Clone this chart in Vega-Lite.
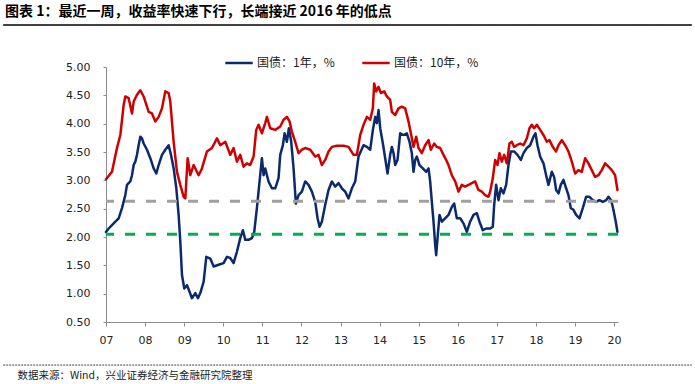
{
  "$schema": "https://vega.github.io/schema/vega-lite/v6.json",
  "width": 512,
  "height": 255,
  "autosize": "none",
  "padding": {"left": 106, "top": 67, "right": 77, "bottom": 62},
  "background": "white",
  "title": {
    "text": "图表 1：最近一周，收益率快速下行，长端接近 2016 年的低点",
    "anchor": "start",
    "frame": "group",
    "font": "Noto Sans CJK SC",
    "fontSize": 14,
    "fontWeight": "bold",
    "color": "#000000",
    "dx": -101,
    "offset": 5
  },
  "datasets": {
    "bonds": [
      {"t": 2007.000, "s": "国债：1年，%", "v": 2.09},
      {"t": 2007.068, "s": "国债：1年，%", "v": 2.15},
      {"t": 2007.153, "s": "国债：1年，%", "v": 2.21},
      {"t": 2007.239, "s": "国债：1年，%", "v": 2.27},
      {"t": 2007.324, "s": "国债：1年，%", "v": 2.33},
      {"t": 2007.409, "s": "国债：1年，%", "v": 2.51},
      {"t": 2007.494, "s": "国债：1年，%", "v": 2.74},
      {"t": 2007.537, "s": "国债：1年，%", "v": 2.92},
      {"t": 2007.622, "s": "国债：1年，%", "v": 2.98},
      {"t": 2007.665, "s": "国债：1年，%", "v": 3.09},
      {"t": 2007.708, "s": "国债：1年，%", "v": 3.27},
      {"t": 2007.750, "s": "国债：1年，%", "v": 3.33},
      {"t": 2007.793, "s": "国债：1年，%", "v": 3.45},
      {"t": 2007.835, "s": "国债：1年，%", "v": 3.62},
      {"t": 2007.878, "s": "国债：1年，%", "v": 3.77},
      {"t": 2007.921, "s": "国债：1年，%", "v": 3.74},
      {"t": 2007.963, "s": "国债：1年，%", "v": 3.65},
      {"t": 2008.049, "s": "国债：1年，%", "v": 3.54},
      {"t": 2008.134, "s": "国债：1年，%", "v": 3.39},
      {"t": 2008.219, "s": "国债：1年，%", "v": 3.21},
      {"t": 2008.287, "s": "国债：1年，%", "v": 3.12},
      {"t": 2008.347, "s": "国债：1年，%", "v": 3.27},
      {"t": 2008.432, "s": "国债：1年，%", "v": 3.45},
      {"t": 2008.517, "s": "国债：1年，%", "v": 3.54},
      {"t": 2008.603, "s": "国债：1年，%", "v": 3.62},
      {"t": 2008.662, "s": "国债：1年，%", "v": 3.45},
      {"t": 2008.731, "s": "国债：1年，%", "v": 3.21},
      {"t": 2008.799, "s": "国债：1年，%", "v": 2.86},
      {"t": 2008.858, "s": "国债：1年，%", "v": 2.39},
      {"t": 2008.901, "s": "国债：1年，%", "v": 1.92},
      {"t": 2008.944, "s": "国债：1年，%", "v": 1.33},
      {"t": 2009.003, "s": "国债：1年，%", "v": 1.09},
      {"t": 2009.072, "s": "国债：1年，%", "v": 1.15},
      {"t": 2009.140, "s": "国债：1年，%", "v": 1.03},
      {"t": 2009.199, "s": "国债：1年，%", "v": 0.92},
      {"t": 2009.285, "s": "国债：1年，%", "v": 1.01},
      {"t": 2009.353, "s": "国债：1年，%", "v": 0.92},
      {"t": 2009.413, "s": "国债：1年，%", "v": 1.01},
      {"t": 2009.498, "s": "国债：1年，%", "v": 1.21},
      {"t": 2009.566, "s": "国债：1年，%", "v": 1.65},
      {"t": 2009.668, "s": "国债：1年，%", "v": 1.62},
      {"t": 2009.754, "s": "国债：1年，%", "v": 1.48},
      {"t": 2009.881, "s": "国债：1年，%", "v": 1.51},
      {"t": 2010.009, "s": "国债：1年，%", "v": 1.54},
      {"t": 2010.094, "s": "国债：1年，%", "v": 1.65},
      {"t": 2010.179, "s": "国债：1年，%", "v": 1.63},
      {"t": 2010.264, "s": "国债：1年，%", "v": 1.54},
      {"t": 2010.350, "s": "国债：1年，%", "v": 1.74},
      {"t": 2010.435, "s": "国债：1年，%", "v": 1.98},
      {"t": 2010.503, "s": "国债：1年，%", "v": 2.12},
      {"t": 2010.563, "s": "国债：1年，%", "v": 1.95},
      {"t": 2010.648, "s": "国债：1年，%", "v": 1.95},
      {"t": 2010.733, "s": "国债：1年，%", "v": 1.98},
      {"t": 2010.793, "s": "国债：1年，%", "v": 2.09},
      {"t": 2010.861, "s": "国债：1年，%", "v": 2.51},
      {"t": 2010.929, "s": "国债：1年，%", "v": 2.98},
      {"t": 2010.989, "s": "国债：1年，%", "v": 3.39},
      {"t": 2011.032, "s": "国债：1年，%", "v": 3.09},
      {"t": 2011.074, "s": "国债：1年，%", "v": 3.21},
      {"t": 2011.159, "s": "国债：1年，%", "v": 2.98},
      {"t": 2011.245, "s": "国债：1年，%", "v": 2.86},
      {"t": 2011.330, "s": "国债：1年，%", "v": 2.86},
      {"t": 2011.415, "s": "国债：1年，%", "v": 3.04},
      {"t": 2011.458, "s": "国债：1年，%", "v": 3.45},
      {"t": 2011.526, "s": "国债：1年，%", "v": 3.62},
      {"t": 2011.569, "s": "国债：1年，%", "v": 3.83},
      {"t": 2011.628, "s": "国债：1年，%", "v": 3.68},
      {"t": 2011.679, "s": "国债：1年，%", "v": 3.92},
      {"t": 2011.739, "s": "国债：1年，%", "v": 3.68},
      {"t": 2011.799, "s": "国债：1年，%", "v": 3.21},
      {"t": 2011.858, "s": "国债：1年，%", "v": 2.59},
      {"t": 2011.927, "s": "国债：1年，%", "v": 2.74},
      {"t": 2012.012, "s": "国债：1年，%", "v": 2.80},
      {"t": 2012.097, "s": "国债：1年，%", "v": 2.98},
      {"t": 2012.182, "s": "国债：1年，%", "v": 2.92},
      {"t": 2012.268, "s": "国债：1年，%", "v": 2.80},
      {"t": 2012.353, "s": "国债：1年，%", "v": 2.62},
      {"t": 2012.413, "s": "国债：1年，%", "v": 2.33},
      {"t": 2012.464, "s": "国债：1年，%", "v": 2.18},
      {"t": 2012.523, "s": "国债：1年，%", "v": 2.27},
      {"t": 2012.609, "s": "国债：1年，%", "v": 2.57},
      {"t": 2012.694, "s": "国债：1年，%", "v": 2.83},
      {"t": 2012.779, "s": "国债：1年，%", "v": 2.98},
      {"t": 2012.864, "s": "国债：1年，%", "v": 2.89},
      {"t": 2012.950, "s": "国债：1年，%", "v": 2.95},
      {"t": 2013.035, "s": "国债：1年，%", "v": 2.86},
      {"t": 2013.120, "s": "国债：1年，%", "v": 2.80},
      {"t": 2013.205, "s": "国债：1年，%", "v": 2.68},
      {"t": 2013.291, "s": "国债：1年，%", "v": 2.86},
      {"t": 2013.376, "s": "国债：1年，%", "v": 2.98},
      {"t": 2013.461, "s": "国债：1年，%", "v": 3.42},
      {"t": 2013.589, "s": "国债：1年，%", "v": 3.62},
      {"t": 2013.675, "s": "国债：1年，%", "v": 3.59},
      {"t": 2013.760, "s": "国债：1年，%", "v": 3.54},
      {"t": 2013.828, "s": "国债：1年，%", "v": 3.89},
      {"t": 2013.888, "s": "国债：1年，%", "v": 4.12},
      {"t": 2013.930, "s": "国债：1年，%", "v": 4.01},
      {"t": 2013.973, "s": "国债：1年，%", "v": 4.24},
      {"t": 2014.016, "s": "国债：1年，%", "v": 3.92},
      {"t": 2014.084, "s": "国债：1年，%", "v": 3.65},
      {"t": 2014.143, "s": "国债：1年，%", "v": 3.39},
      {"t": 2014.203, "s": "国债：1年，%", "v": 3.12},
      {"t": 2014.271, "s": "国债：1年，%", "v": 3.45},
      {"t": 2014.314, "s": "国债：1年，%", "v": 3.59},
      {"t": 2014.357, "s": "国债：1年，%", "v": 3.48},
      {"t": 2014.399, "s": "国债：1年，%", "v": 3.27},
      {"t": 2014.459, "s": "国债：1年，%", "v": 3.36},
      {"t": 2014.527, "s": "国债：1年，%", "v": 3.83},
      {"t": 2014.612, "s": "国债：1年，%", "v": 3.80},
      {"t": 2014.698, "s": "国债：1年，%", "v": 3.83},
      {"t": 2014.766, "s": "国债：1年，%", "v": 3.68},
      {"t": 2014.825, "s": "国债：1年，%", "v": 3.48},
      {"t": 2014.868, "s": "国债：1年，%", "v": 3.15},
      {"t": 2014.911, "s": "国债：1年，%", "v": 3.36},
      {"t": 2014.953, "s": "国债：1年，%", "v": 3.42},
      {"t": 2015.021, "s": "国债：1年，%", "v": 3.27},
      {"t": 2015.107, "s": "国债：1年，%", "v": 3.21},
      {"t": 2015.192, "s": "国债：1年，%", "v": 3.15},
      {"t": 2015.252, "s": "国债：1年，%", "v": 3.21},
      {"t": 2015.294, "s": "国债：1年，%", "v": 2.98},
      {"t": 2015.337, "s": "国债：1年，%", "v": 2.62},
      {"t": 2015.380, "s": "国债：1年，%", "v": 2.27},
      {"t": 2015.422, "s": "国债：1年，%", "v": 1.86},
      {"t": 2015.448, "s": "国债：1年，%", "v": 1.68},
      {"t": 2015.490, "s": "国债：1年，%", "v": 2.04},
      {"t": 2015.533, "s": "国债：1年，%", "v": 2.39},
      {"t": 2015.593, "s": "国债：1年，%", "v": 2.27},
      {"t": 2015.678, "s": "国债：1年，%", "v": 2.33},
      {"t": 2015.763, "s": "国债：1年，%", "v": 2.39},
      {"t": 2015.848, "s": "国债：1年，%", "v": 2.53},
      {"t": 2015.908, "s": "国债：1年，%", "v": 2.59},
      {"t": 2015.976, "s": "国债：1年，%", "v": 2.33},
      {"t": 2016.062, "s": "国债：1年，%", "v": 2.33},
      {"t": 2016.147, "s": "国债：1年，%", "v": 2.24},
      {"t": 2016.232, "s": "国债：1年，%", "v": 2.09},
      {"t": 2016.317, "s": "国债：1年，%", "v": 2.27},
      {"t": 2016.403, "s": "国债：1年，%", "v": 2.39},
      {"t": 2016.488, "s": "国债：1年，%", "v": 2.42},
      {"t": 2016.556, "s": "国债：1年，%", "v": 2.27},
      {"t": 2016.641, "s": "国债：1年，%", "v": 2.12},
      {"t": 2016.727, "s": "国债：1年，%", "v": 2.15},
      {"t": 2016.829, "s": "国债：1年，%", "v": 2.15},
      {"t": 2016.897, "s": "国债：1年，%", "v": 2.18},
      {"t": 2016.931, "s": "国债：1年，%", "v": 2.56},
      {"t": 2016.982, "s": "国债：1年，%", "v": 2.92},
      {"t": 2017.042, "s": "国债：1年，%", "v": 2.65},
      {"t": 2017.102, "s": "国债：1年，%", "v": 2.86},
      {"t": 2017.170, "s": "国债：1年，%", "v": 2.77},
      {"t": 2017.238, "s": "国债：1年，%", "v": 2.92},
      {"t": 2017.298, "s": "国债：1年，%", "v": 3.27},
      {"t": 2017.358, "s": "国债：1年，%", "v": 3.51},
      {"t": 2017.443, "s": "国债：1年，%", "v": 3.51},
      {"t": 2017.528, "s": "国债：1年，%", "v": 3.45},
      {"t": 2017.613, "s": "国债：1年，%", "v": 3.36},
      {"t": 2017.682, "s": "国债：1年，%", "v": 3.48},
      {"t": 2017.767, "s": "国债：1年，%", "v": 3.57},
      {"t": 2017.852, "s": "国债：1年，%", "v": 3.62},
      {"t": 2017.937, "s": "国债：1年，%", "v": 3.77},
      {"t": 2017.988, "s": "国债：1年，%", "v": 3.83},
      {"t": 2018.040, "s": "国债：1年，%", "v": 3.62},
      {"t": 2018.108, "s": "国债：1年，%", "v": 3.42},
      {"t": 2018.193, "s": "国债：1年，%", "v": 3.30},
      {"t": 2018.261, "s": "国债：1年，%", "v": 3.09},
      {"t": 2018.321, "s": "国债：1年，%", "v": 2.92},
      {"t": 2018.406, "s": "国债：1年，%", "v": 3.15},
      {"t": 2018.466, "s": "国债：1年，%", "v": 3.06},
      {"t": 2018.517, "s": "国债：1年，%", "v": 2.83},
      {"t": 2018.577, "s": "国债：1年，%", "v": 2.77},
      {"t": 2018.636, "s": "国债：1年，%", "v": 2.92},
      {"t": 2018.705, "s": "国债：1年，%", "v": 3.01},
      {"t": 2018.773, "s": "国债：1年，%", "v": 2.86},
      {"t": 2018.832, "s": "国债：1年，%", "v": 2.74},
      {"t": 2018.892, "s": "国债：1年，%", "v": 2.51},
      {"t": 2018.960, "s": "国债：1年，%", "v": 2.48},
      {"t": 2019.029, "s": "国债：1年，%", "v": 2.39},
      {"t": 2019.114, "s": "国债：1年，%", "v": 2.33},
      {"t": 2019.199, "s": "国债：1年，%", "v": 2.51},
      {"t": 2019.284, "s": "国债：1年，%", "v": 2.71},
      {"t": 2019.370, "s": "国债：1年，%", "v": 2.71},
      {"t": 2019.455, "s": "国债：1年，%", "v": 2.65},
      {"t": 2019.540, "s": "国债：1年，%", "v": 2.62},
      {"t": 2019.625, "s": "国债：1年，%", "v": 2.65},
      {"t": 2019.711, "s": "国债：1年，%", "v": 2.62},
      {"t": 2019.796, "s": "国债：1年，%", "v": 2.65},
      {"t": 2019.856, "s": "国债：1年，%", "v": 2.71},
      {"t": 2019.924, "s": "国债：1年，%", "v": 2.65},
      {"t": 2019.983, "s": "国债：1年，%", "v": 2.48},
      {"t": 2020.043, "s": "国债：1年，%", "v": 2.27},
      {"t": 2020.086, "s": "国债：1年，%", "v": 2.09},
      {"t": 2007.000, "s": "国债：10年，%", "v": 3.02},
      {"t": 2007.153, "s": "国债：10年，%", "v": 3.15},
      {"t": 2007.281, "s": "国债：10年，%", "v": 3.57},
      {"t": 2007.367, "s": "国债：10年，%", "v": 3.80},
      {"t": 2007.452, "s": "国债：10年，%", "v": 4.33},
      {"t": 2007.494, "s": "国债：10年，%", "v": 4.48},
      {"t": 2007.580, "s": "国债：10年，%", "v": 4.45},
      {"t": 2007.665, "s": "国债：10年，%", "v": 4.18},
      {"t": 2007.708, "s": "国债：10年，%", "v": 4.39},
      {"t": 2007.793, "s": "国债：10年，%", "v": 4.51},
      {"t": 2007.878, "s": "国债：10年，%", "v": 4.59},
      {"t": 2007.963, "s": "国债：10年，%", "v": 4.48},
      {"t": 2008.091, "s": "国债：10年，%", "v": 4.21},
      {"t": 2008.176, "s": "国债：10年，%", "v": 4.18},
      {"t": 2008.262, "s": "国债：10年，%", "v": 4.04},
      {"t": 2008.347, "s": "国债：10年，%", "v": 4.12},
      {"t": 2008.432, "s": "国债：10年，%", "v": 4.27},
      {"t": 2008.517, "s": "国债：10年，%", "v": 4.57},
      {"t": 2008.603, "s": "国债：10年，%", "v": 4.54},
      {"t": 2008.645, "s": "国债：10年，%", "v": 4.39},
      {"t": 2008.731, "s": "国债：10年，%", "v": 3.68},
      {"t": 2008.816, "s": "国债：10年，%", "v": 3.15},
      {"t": 2008.901, "s": "国债：10年，%", "v": 2.92},
      {"t": 2008.986, "s": "国债：10年，%", "v": 2.71},
      {"t": 2009.029, "s": "国债：10年，%", "v": 2.68},
      {"t": 2009.089, "s": "国债：10年，%", "v": 3.39},
      {"t": 2009.157, "s": "国债：10年，%", "v": 3.09},
      {"t": 2009.242, "s": "国债：10年，%", "v": 3.27},
      {"t": 2009.370, "s": "国债：10年，%", "v": 3.09},
      {"t": 2009.455, "s": "国债：10年，%", "v": 3.21},
      {"t": 2009.583, "s": "国债：10年，%", "v": 3.51},
      {"t": 2009.711, "s": "国债：10年，%", "v": 3.57},
      {"t": 2009.839, "s": "国债：10年，%", "v": 3.74},
      {"t": 2009.924, "s": "国债：10年，%", "v": 3.62},
      {"t": 2010.052, "s": "国债：10年，%", "v": 3.68},
      {"t": 2010.179, "s": "国债：10年，%", "v": 3.45},
      {"t": 2010.264, "s": "国债：10年，%", "v": 3.57},
      {"t": 2010.350, "s": "国债：10年，%", "v": 3.33},
      {"t": 2010.435, "s": "国债：10年，%", "v": 3.45},
      {"t": 2010.520, "s": "国债：10年，%", "v": 3.24},
      {"t": 2010.605, "s": "国债：10年，%", "v": 3.30},
      {"t": 2010.691, "s": "国债：10年，%", "v": 3.27},
      {"t": 2010.776, "s": "国债：10年，%", "v": 3.42},
      {"t": 2010.844, "s": "国债：10年，%", "v": 3.89},
      {"t": 2010.904, "s": "国债：10年，%", "v": 3.98},
      {"t": 2010.989, "s": "国债：10年，%", "v": 3.83},
      {"t": 2011.074, "s": "国债：10年，%", "v": 4.01},
      {"t": 2011.117, "s": "国债：10年，%", "v": 4.12},
      {"t": 2011.202, "s": "国债：10年，%", "v": 3.92},
      {"t": 2011.330, "s": "国债：10年，%", "v": 3.89},
      {"t": 2011.458, "s": "国债：10年，%", "v": 3.95},
      {"t": 2011.543, "s": "国债：10年，%", "v": 4.07},
      {"t": 2011.628, "s": "国债：10年，%", "v": 4.12},
      {"t": 2011.696, "s": "国债：10年，%", "v": 4.04},
      {"t": 2011.756, "s": "国债：10年，%", "v": 3.86},
      {"t": 2011.841, "s": "国债：10年，%", "v": 3.68},
      {"t": 2011.927, "s": "国债：10年，%", "v": 3.48},
      {"t": 2012.012, "s": "国债：10年，%", "v": 3.54},
      {"t": 2012.097, "s": "国债：10年，%", "v": 3.57},
      {"t": 2012.225, "s": "国债：10年，%", "v": 3.54},
      {"t": 2012.353, "s": "国债：10年，%", "v": 3.42},
      {"t": 2012.438, "s": "国债：10年，%", "v": 3.45},
      {"t": 2012.523, "s": "国债：10年，%", "v": 3.27},
      {"t": 2012.609, "s": "国债：10年，%", "v": 3.36},
      {"t": 2012.694, "s": "国债：10年，%", "v": 3.51},
      {"t": 2012.779, "s": "国债：10年，%", "v": 3.59},
      {"t": 2012.907, "s": "国债：10年，%", "v": 3.61},
      {"t": 2013.078, "s": "国债：10年，%", "v": 3.61},
      {"t": 2013.205, "s": "国债：10年，%", "v": 3.59},
      {"t": 2013.333, "s": "国债：10年，%", "v": 3.45},
      {"t": 2013.419, "s": "国债：10年，%", "v": 3.45},
      {"t": 2013.504, "s": "国债：10年，%", "v": 3.80},
      {"t": 2013.589, "s": "国债：10年，%", "v": 3.98},
      {"t": 2013.675, "s": "国债：10年，%", "v": 4.12},
      {"t": 2013.760, "s": "国债：10年，%", "v": 4.07},
      {"t": 2013.828, "s": "国债：10年，%", "v": 4.27},
      {"t": 2013.862, "s": "国债：10年，%", "v": 4.71},
      {"t": 2013.913, "s": "国债：10年，%", "v": 4.57},
      {"t": 2013.973, "s": "国债：10年，%", "v": 4.65},
      {"t": 2014.033, "s": "国债：10年，%", "v": 4.54},
      {"t": 2014.118, "s": "国债：10年，%", "v": 4.57},
      {"t": 2014.186, "s": "国债：10年，%", "v": 4.48},
      {"t": 2014.271, "s": "国债：10年，%", "v": 4.42},
      {"t": 2014.314, "s": "国债：10年，%", "v": 4.21},
      {"t": 2014.399, "s": "国债：10年，%", "v": 4.15},
      {"t": 2014.484, "s": "国债：10年，%", "v": 4.27},
      {"t": 2014.570, "s": "国债：10年，%", "v": 4.30},
      {"t": 2014.655, "s": "国债：10年，%", "v": 4.27},
      {"t": 2014.740, "s": "国债：10年，%", "v": 4.04},
      {"t": 2014.800, "s": "国债：10年，%", "v": 3.83},
      {"t": 2014.868, "s": "国债：10年，%", "v": 3.59},
      {"t": 2014.936, "s": "国债：10年，%", "v": 3.77},
      {"t": 2014.996, "s": "国债：10年，%", "v": 3.57},
      {"t": 2015.081, "s": "国债：10年，%", "v": 3.48},
      {"t": 2015.166, "s": "国债：10年，%", "v": 3.62},
      {"t": 2015.252, "s": "国债：10年，%", "v": 3.71},
      {"t": 2015.311, "s": "国债：10年，%", "v": 3.54},
      {"t": 2015.397, "s": "国债：10年，%", "v": 3.65},
      {"t": 2015.465, "s": "国债：10年，%", "v": 3.59},
      {"t": 2015.550, "s": "国债：10年，%", "v": 3.57},
      {"t": 2015.635, "s": "国债：10年，%", "v": 3.45},
      {"t": 2015.703, "s": "国债：10年，%", "v": 3.36},
      {"t": 2015.763, "s": "国债：10年，%", "v": 3.27},
      {"t": 2015.848, "s": "国债：10年，%", "v": 3.09},
      {"t": 2015.934, "s": "国债：10年，%", "v": 2.98},
      {"t": 2016.019, "s": "国债：10年，%", "v": 2.80},
      {"t": 2016.104, "s": "国债：10年，%", "v": 2.92},
      {"t": 2016.189, "s": "国债：10年，%", "v": 2.89},
      {"t": 2016.275, "s": "国债：10年，%", "v": 2.92},
      {"t": 2016.360, "s": "国债：10年，%", "v": 2.95},
      {"t": 2016.445, "s": "国债：10年，%", "v": 2.98},
      {"t": 2016.530, "s": "国债：10年，%", "v": 2.83},
      {"t": 2016.616, "s": "国债：10年，%", "v": 2.80},
      {"t": 2016.701, "s": "国债：10年，%", "v": 2.74},
      {"t": 2016.786, "s": "国债：10年，%", "v": 2.71},
      {"t": 2016.829, "s": "国债：10年，%", "v": 2.80},
      {"t": 2016.897, "s": "国债：10年，%", "v": 3.04},
      {"t": 2016.957, "s": "国债：10年，%", "v": 3.36},
      {"t": 2017.017, "s": "国债：10年，%", "v": 3.27},
      {"t": 2017.068, "s": "国债：10年，%", "v": 3.48},
      {"t": 2017.127, "s": "国债：10年，%", "v": 3.33},
      {"t": 2017.187, "s": "国债：10年，%", "v": 3.45},
      {"t": 2017.255, "s": "国债：10年，%", "v": 3.30},
      {"t": 2017.323, "s": "国债：10年，%", "v": 3.65},
      {"t": 2017.383, "s": "国债：10年，%", "v": 3.68},
      {"t": 2017.443, "s": "国债：10年，%", "v": 3.59},
      {"t": 2017.511, "s": "国债：10年，%", "v": 3.62},
      {"t": 2017.596, "s": "国债：10年，%", "v": 3.65},
      {"t": 2017.682, "s": "国债：10年，%", "v": 3.62},
      {"t": 2017.767, "s": "国债：10年，%", "v": 3.74},
      {"t": 2017.835, "s": "国债：10年，%", "v": 3.92},
      {"t": 2017.895, "s": "国债：10年，%", "v": 3.98},
      {"t": 2017.954, "s": "国债：10年，%", "v": 3.92},
      {"t": 2018.023, "s": "国债：10年，%", "v": 3.98},
      {"t": 2018.108, "s": "国债：10年，%", "v": 3.89},
      {"t": 2018.193, "s": "国债：10年，%", "v": 3.80},
      {"t": 2018.278, "s": "国债：10年，%", "v": 3.68},
      {"t": 2018.346, "s": "国债：10年，%", "v": 3.71},
      {"t": 2018.432, "s": "国债：10年，%", "v": 3.59},
      {"t": 2018.517, "s": "国债：10年，%", "v": 3.51},
      {"t": 2018.577, "s": "国债：10年，%", "v": 3.62},
      {"t": 2018.662, "s": "国债：10年，%", "v": 3.71},
      {"t": 2018.747, "s": "国债：10年，%", "v": 3.62},
      {"t": 2018.832, "s": "国债：10年，%", "v": 3.51},
      {"t": 2018.918, "s": "国债：10年，%", "v": 3.33},
      {"t": 2019.003, "s": "国债：10年，%", "v": 3.12},
      {"t": 2019.088, "s": "国债：10年，%", "v": 3.18},
      {"t": 2019.173, "s": "国债：10年，%", "v": 3.15},
      {"t": 2019.259, "s": "国债：10年，%", "v": 3.39},
      {"t": 2019.344, "s": "国债：10年，%", "v": 3.30},
      {"t": 2019.429, "s": "国债：10年，%", "v": 3.18},
      {"t": 2019.514, "s": "国债：10年，%", "v": 3.06},
      {"t": 2019.600, "s": "国债：10年，%", "v": 3.09},
      {"t": 2019.685, "s": "国债：10年，%", "v": 3.18},
      {"t": 2019.770, "s": "国债：10年，%", "v": 3.30},
      {"t": 2019.856, "s": "国债：10年，%", "v": 3.24},
      {"t": 2019.941, "s": "国债：10年，%", "v": 3.18},
      {"t": 2020.026, "s": "国债：10年，%", "v": 3.09},
      {"t": 2020.086, "s": "国债：10年，%", "v": 2.83}
    ],
    "levels": [
      {"name": "grey", "level": 2.63},
      {"name": "green", "level": 2.05}
    ]
  },
  "encoding": {
    "x": {
      "type": "quantitative",
      "scale": {"domain": [2007, 2020.1], "nice": false, "zero": false},
      "axis": {
        "title": "数据来源：Wind，兴业证券经济与金融研究院整理",
        "values": [2007, 2008, 2009, 2010, 2011, 2012, 2013, 2014, 2015, 2016, 2017, 2018, 2019, 2020],
        "format": "d",
        "labelExpr": "slice(datum.label, 2)",
        "labelOverlap": false,
        "labelFlush": false,
        "labelSeparation": 0,
        "grid": false,
        "domainColor": "#8c8c8c",
        "tickColor": "#8c8c8c",
        "tickSize": 4,
        "labelPadding": 8,
        "labelFont": "DejaVu Sans",
        "labelFontSize": 11,
        "labelColor": "#222222",
        "titleFont": "Noto Sans CJK SC",
        "titleFontSize": 10.5,
        "titleFontWeight": "normal",
        "titleColor": "#222222",
        "titleAnchor": "start",
        "titleAlign": "left",
        "titleBaseline": "alphabetic",
        "titleX": -89,
        "titleY": 56
      }
    },
    "y": {
      "type": "quantitative",
      "scale": {"domain": [0.5, 5], "nice": false, "zero": false},
      "axis": {
        "title": null,
        "values": [0.5, 1, 1.5, 2, 2.5, 3, 3.5, 4, 4.5, 5],
        "format": ".2f",
        "labelOverlap": false,
        "labelFlush": false,
        "labelSeparation": 0,
        "grid": false,
        "domainColor": "#8c8c8c",
        "tickColor": "#8c8c8c",
        "tickSize": 3,
        "labelPadding": 13,
        "labelFont": "DejaVu Sans",
        "labelFontSize": 11,
        "labelColor": "#222222"
      }
    }
  },
  "layer": [
    {
      "data": {"values": [{"x0": 2004.37, "x1": 2021.99, "fy": -0.26}]},
      "mark": {"type": "rule", "color": "#444444", "strokeWidth": 1, "strokeDash": [2, 1], "clip": false},
      "encoding": {
        "x": {"field": "x0", "type": "quantitative"},
        "x2": {"field": "x1"},
        "y": {"field": "fy", "type": "quantitative"}
      }
    },
    {
      "data": {"name": "bonds"},
      "mark": {"type": "line", "strokeWidth": 2.5, "strokeJoin": "round", "strokeCap": "round"},
      "encoding": {
        "x": {"field": "t", "type": "quantitative"},
        "y": {"field": "v", "type": "quantitative"},
        "color": {
          "field": "s",
          "type": "nominal",
          "scale": {"domain": ["国债：1年，%", "国债：10年，%"], "range": ["#0b2a6e", "#d10000"]},
          "legend": {
            "title": null,
            "orient": "none",
            "direction": "horizontal",
            "legendX": 118,
            "legendY": -19,
            "symbolType": "stroke",
            "symbolSize": 750,
            "symbolStrokeWidth": 2.5,
            "labelFont": "Noto Sans CJK SC",
            "labelFontSize": 12,
            "labelColor": "#222222",
            "labelOffset": 3,
            "columnPadding": 22
          }
        }
      }
    },
    {
      "data": {"name": "levels"},
      "transform": [{"filter": "datum.name == 'grey'"}],
      "mark": {"type": "rule", "color": "#a0a0a0", "strokeWidth": 3, "strokeDash": [10, 11]},
      "encoding": {"x": null, "y": {"field": "level", "type": "quantitative"}}
    },
    {
      "data": {"name": "levels"},
      "transform": [{"filter": "datum.name == 'green'"}],
      "mark": {"type": "rule", "color": "#00b050", "strokeWidth": 3, "strokeDash": [10, 11]},
      "encoding": {"x": null, "y": {"field": "level", "type": "quantitative"}}
    },
    {
      "data": {"values": [{"x0": 2004.37, "x1": 2021.99, "fy": 5.74}]},
      "mark": {"type": "rule", "stroke": "#000000", "strokeWidth": 1.5, "strokeDash": [1, 0], "clip": false},
      "encoding": {
        "x": {"field": "x0", "type": "quantitative"},
        "x2": {"field": "x1"},
        "y": {"field": "fy", "type": "quantitative"}
      }
    }
  ],
  "config": {"view": {"stroke": null}, "axis": {"labelOverlap": false}}
}
